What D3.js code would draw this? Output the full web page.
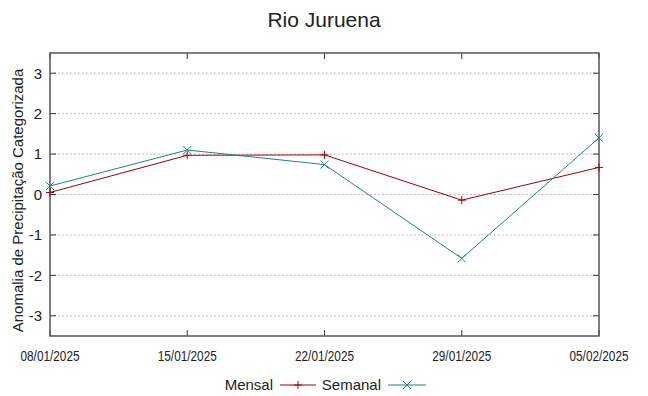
<!DOCTYPE html>
<meta charset="utf-8">
<script src="https://d3js.org/d3.v7.min.js"></script>
<style>
    body { margin: 0; background: #fff; }
    text { font-family: "Liberation Sans", Arial, sans-serif; fill: #222; }
</style>
<div id="chart"></div>
<script>
    // data
    var dates = ["08/01/2025", "15/01/2025", "22/01/2025", "29/01/2025", "05/02/2025"];
    var mensal = [0.05, 0.97, 0.98, -0.14, 0.67];
    var semanal = [0.21, 1.10, 0.74, -1.58, 1.40];
    var yTicks = [-3, -2, -1, 0, 1, 2, 3];

    var W = 648, H = 396;
    var margin = { top: 53, right: 48, bottom: 60, left: 50 },
        width = 599 - margin.left,
        height = 336 - margin.top;

    var svg = d3.select("#chart").append("svg")
        .attr("width", W).attr("height", H);
    var g = svg.append("g")
        .attr("transform", "translate(" + margin.left + "," + margin.top + ")");

    var parse = d3.timeParse("%d/%m/%Y");
    var x = d3.scaleTime()
        .domain([parse(dates[0]), parse(dates[dates.length - 1])])
        .range([0, width]);
    var y = d3.scaleLinear().domain([-3.5, 3.5]).range([height, 0]);

    // grid
    g.append("g").selectAll("line").data(yTicks).enter().append("line")
        .attr("x1", 0).attr("x2", width)
        .attr("y1", function (d) { return y(d); }).attr("y2", function (d) { return y(d); })
        .attr("stroke", "#a8a8a8").attr("stroke-width", 1)
        .attr("stroke-dasharray", "1.5,2.5");

    // tick marks (inward, mirrored)
    var tickLen = 6;
    g.append("g").selectAll("line").data(dates).enter().append("line")
        .attr("x1", function (d) { return x(parse(d)); }).attr("x2", function (d) { return x(parse(d)); })
        .attr("y1", height).attr("y2", height - tickLen)
        .attr("stroke", "#333");
    g.append("g").selectAll("line").data(dates).enter().append("line")
        .attr("x1", function (d) { return x(parse(d)); }).attr("x2", function (d) { return x(parse(d)); })
        .attr("y1", 0).attr("y2", tickLen)
        .attr("stroke", "#333");
    g.append("g").selectAll("line").data(yTicks).enter().append("line")
        .attr("x1", 0).attr("x2", tickLen)
        .attr("y1", function (d) { return y(d); }).attr("y2", function (d) { return y(d); })
        .attr("stroke", "#333");
    g.append("g").selectAll("line").data(yTicks).enter().append("line")
        .attr("x1", width).attr("x2", width - tickLen)
        .attr("y1", function (d) { return y(d); }).attr("y2", function (d) { return y(d); })
        .attr("stroke", "#333");

    // border
    g.append("rect")
        .attr("x", 0).attr("y", 0).attr("width", width).attr("height", height)
        .attr("fill", "none").attr("stroke", "#555").attr("stroke-width", 1.5);

    // tick labels
    g.append("g").selectAll("text").data(yTicks).enter().append("text")
        .attr("x", -8).attr("y", function (d) { return y(d); })
        .attr("dy", "0.36em").attr("text-anchor", "end")
        .style("font-size", "15px")
        .text(function (d) { return d; });
    g.append("g").selectAll("text").data(dates).enter().append("text")
        .attr("x", function (d) { return x(parse(d)); }).attr("y", height + 25)
        .attr("text-anchor", "middle")
        .attr("textLength", 59).attr("lengthAdjust", "spacingAndGlyphs")
        .style("font-size", "14px")
        .text(function (d) { return d; });

    // titles
    svg.append("text")
        .attr("x", 324).attr("y", 27).attr("text-anchor", "middle")
        .style("font-size", "21px").text("Rio Juruena");
    svg.append("text")
        .attr("transform", "translate(23," + (margin.top + height / 2 + 6) + ") rotate(-90)")
        .attr("text-anchor", "middle")
        .style("font-size", "15px")
        .text("Anomalia de Precipitação Categorizada");

    var series = [
        { name: "Mensal", values: mensal, color: "#a00000", marker: "plus" },
        { name: "Semanal", values: semanal, color: "#1a8585", marker: "cross" }
    ];

    var line = d3.line()
        .x(function (d, i) { return x(parse(dates[i])); })
        .y(function (d) { return y(d); });

    function marker(sel, type, cx, cy, color) {
        var s = 4;
        if (type === "plus") {
            sel.append("path").attr("d", "M" + (cx - s) + "," + cy + "H" + (cx + s) + "M" + cx + "," + (cy - s) + "V" + (cy + s))
                .attr("stroke", color).attr("fill", "none");
        } else {
            sel.append("path").attr("d", "M" + (cx - s) + "," + (cy - s) + "L" + (cx + s) + "," + (cy + s) + "M" + (cx - s) + "," + (cy + s) + "L" + (cx + s) + "," + (cy - s))
                .attr("stroke", color).attr("fill", "none");
        }
    }

    series.forEach(function (s) {
        g.append("path").datum(s.values)
            .attr("d", line)
            .attr("fill", "none").attr("stroke", s.color).attr("stroke-width", 1);
        s.values.forEach(function (v, i) {
            marker(g, s.marker, x(parse(dates[i])), y(v), s.color);
        });
    });

    // legend
    var legY = 385;
    var leg = [
        { s: series[0], textEnd: 273, x1: 280, x2: 316 },
        { s: series[1], textEnd: 381, x1: 388, x2: 426 }
    ];
    leg.forEach(function (l) {
        svg.append("text").attr("x", l.textEnd).attr("y", legY).attr("dy", "0.35em")
            .attr("text-anchor", "end").style("font-size", "15px").text(l.s.name);
        svg.append("line").attr("x1", l.x1).attr("x2", l.x2).attr("y1", legY).attr("y2", legY)
            .attr("stroke", l.s.color).attr("stroke-width", 1);
        marker(svg, l.s.marker, (l.x1 + l.x2) / 2, legY, l.s.color);
    });
</script>
